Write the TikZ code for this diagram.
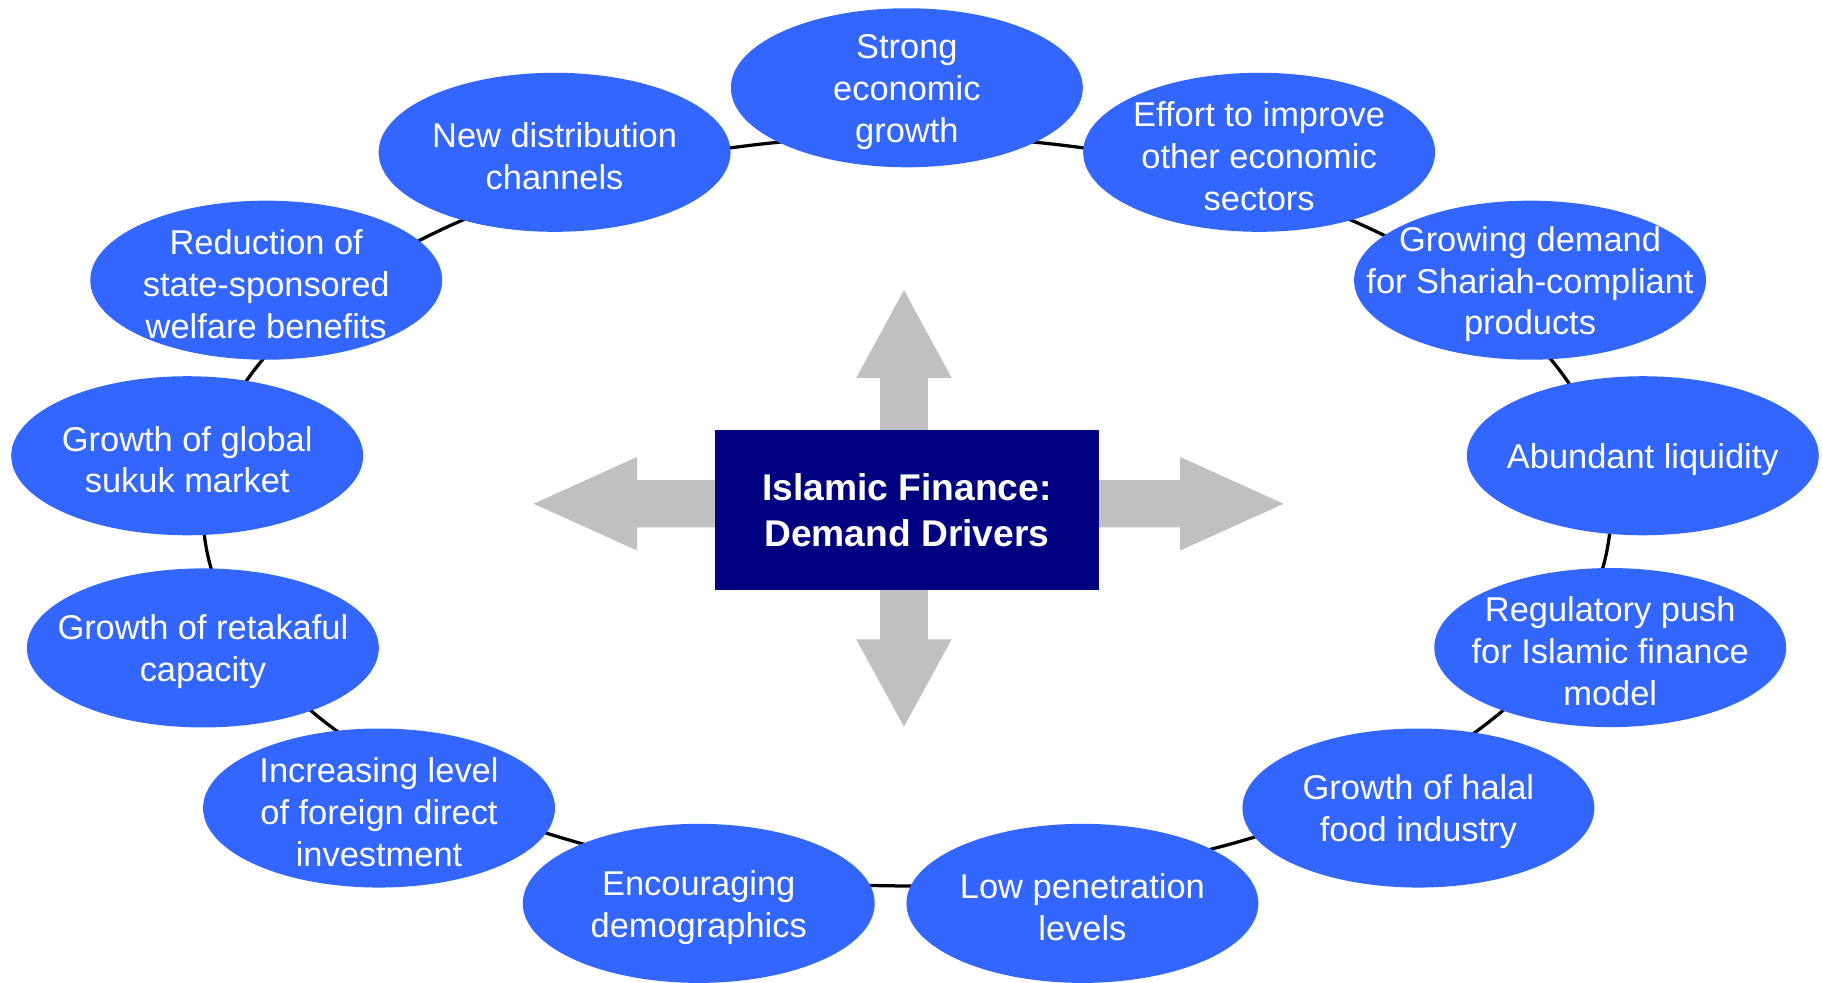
\documentclass[tikz,border=0pt]{standalone}
\usepackage{fontspec}
\setmainfont{Liberation Sans}
\usetikzlibrary{shapes.geometric}
\definecolor{bubblue}{HTML}{3366FF}
\definecolor{hubnavy}{HTML}{000080}
\definecolor{arrgray}{HTML}{C0C0C0}
\begin{document}
\begin{tikzpicture}[x=0.5pt,y=-0.5pt,
  bub/.style={ellipse, fill=bubblue, draw=none, minimum width=151.35pt, minimum height=68.4pt, inner sep=0pt},
  btxt/.style={text=white, align=center, font=\fontsize{14.8}{18}\selectfont, inner sep=0pt, yshift=-1.7pt},
  hub/.style={rectangle, fill=hubnavy, text=white, minimum width=165.2pt, minimum height=68.8pt, inner sep=0pt, align=center, font=\fontsize{16}{19.5}\selectfont\bfseries},
  ringstyle/.style={ellipse, draw=black, line width=1.4pt, minimum width=605.5pt, minimum height=322.5pt, inner sep=0pt, outer sep=0pt},
  garrow/.style={fill=arrgray, draw=none}]
\useasboundingbox (0,0) rectangle (1568,845);
% ring connecting the drivers
\node[ringstyle] (ring) at (780,439.5) {};
% bubbles
\node[bub] (n1) at (780,75.5) {};
\node[bub] (n2) at (1083,131) {};
\node[bub] (n3) at (1316,241) {};
\node[bub] (n4) at (1413,392) {};
\node[bub] (n5) at (1385,557) {};
\node[bub] (n6) at (1220,695) {};
\node[bub] (n7) at (931,777) {};
\node[bub] (n8) at (601,777) {};
\node[bub] (n9) at (326,695) {};
\node[bub] (n10) at (174.5,557.3) {};
\node[bub] (n11) at (161,392) {};
\node[bub] (n12) at (229,241) {};
\node[bub] (n13) at (477,131) {};
\node[btxt] (t1) at (n1) {Strong\\economic\\growth};
\node[btxt] (t2) at (n2) {Effort to improve\\other economic\\sectors};
\node[btxt] (t3) at (n3) {Growing demand\\for Shariah-compliant\\products};
\node[btxt] (t4) at (n4) {Abundant liquidity};
\node[btxt] (t5) at (n5) {Regulatory push\\for Islamic finance\\model};
\node[btxt] (t6) at (n6) {Growth of halal\\food industry};
\node[btxt] (t7) at (n7) {Low penetration\\levels};
\node[btxt] (t8) at (n8) {Encouraging\\demographics};
\node[btxt] (t9) at (n9) {Increasing level\\of foreign direct\\investment};
\node[btxt] (t10) at (n10) {Growth of retakaful\\capacity};
\node[btxt] (t11) at (n11) {Growth of global\\sukuk market};
\node[btxt] (t12) at (n12) {Reduction of\\state-sponsored\\welfare benefits};
\node[btxt] (t13) at (n13) {New distribution\\channels};
% gray block arrows
\fill[garrow] (757,380) -- (757,325) -- (736.5,325) -- (777.5,249.5) -- (818.5,325) -- (798,325) -- (798,380) -- cycle;
\fill[garrow] (757,500) -- (757,550) -- (736.5,550) -- (777.5,625) -- (818.5,550) -- (798,550) -- (798,500) -- cycle;
\fill[garrow] (625,413) -- (548,413) -- (548,393) -- (459,433.3) -- (548,473.5) -- (548,453.5) -- (625,453.5) -- cycle;
\fill[garrow] (935,413) -- (1015,413) -- (1015,393) -- (1104,433.3) -- (1015,473.5) -- (1015,453.5) -- (935,453.5) -- cycle;
% hub
\node[hub] (hub) at (780,438.7) {Islamic Finance:\\Demand Drivers};
\end{tikzpicture}
\end{document}
